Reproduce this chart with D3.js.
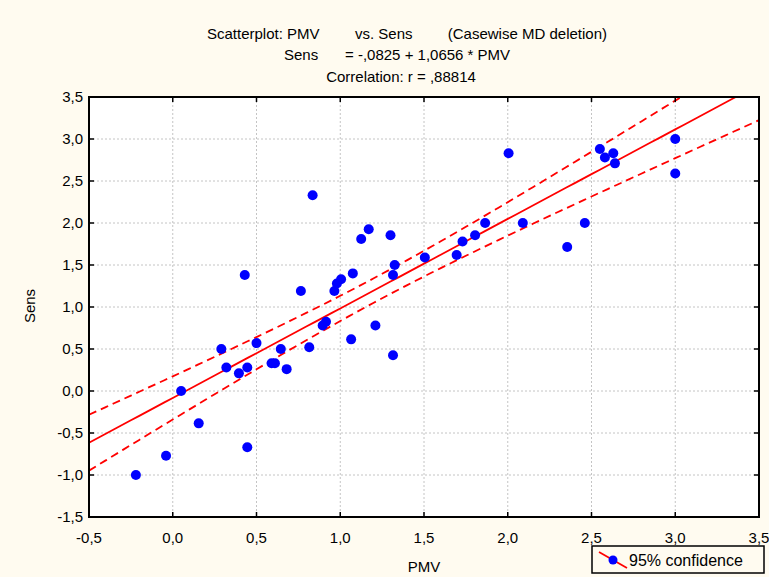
<!DOCTYPE html>
<html><head><meta charset="utf-8">
<script src="https://cdn.jsdelivr.net/npm/d3@7"></script>
<style>
html,body{margin:0;padding:0;background:#fffbf0;}
text{font-family:Arial,"Liberation Sans",sans-serif;fill:#000;}
</style></head>
<body>
<svg id="c" width="769" height="577"></svg>
<script>
const pmv  = [-0.22,-0.04,0.05,0.155,0.29,0.32,0.395,0.43,0.445,0.445,0.50,0.59,0.61,0.645,0.68,0.765,0.815,0.835,0.895,0.915,0.965,0.98,1.005,1.065,1.075,1.125,1.17,1.21,1.30,1.315,1.315,1.325,1.505,1.695,1.73,1.805,1.865,2.005,2.09,2.355,2.46,2.55,2.58,2.63,2.64,3.0,3.0];
const sens = [-1.0,-0.77,0.0,-0.385,0.5,0.28,0.21,1.38,0.28,-0.67,0.57,0.33,0.33,0.5,0.26,1.19,0.52,2.33,0.78,0.825,1.19,1.28,1.33,0.615,1.40,1.81,1.925,0.78,1.855,0.425,1.38,1.50,1.59,1.62,1.78,1.855,2.0,2.83,2.0,1.715,2.0,2.88,2.78,2.83,2.71,3.0,2.59];
const coef = [-0.0825, 1.0656];   // intercept, slope
const xTicks = [-0.5,0.0,0.5,1.0,1.5,2.0,2.5,3.0,3.5];
const yTicks = [-1.5,-1.0,-0.5,0.0,0.5,1.0,1.5,2.0,2.5,3.0,3.5];
const tCrit = 2.014;

const svg = d3.select("#c");
const L=89,R=759,T=97,B=517;
const x = d3.scaleLinear().domain([-0.5,3.5]).range([L,R]);
const y = d3.scaleLinear().domain([-1.5,3.5]).range([B,T]);
const fmt = v => d3.format(".1f")(v).replace(".",",").replace("−","-");

// background
svg.append("rect").attr("width",769).attr("height",577).attr("fill","#fffbf0");
svg.append("rect").attr("x",L).attr("y",T).attr("width",R-L).attr("height",B-T).attr("fill","#fff");

// grid
const g = svg.append("g");
g.selectAll(".gx").data(xTicks.slice(1,-1)).join("line")
  .attr("x1",d=>x(d)).attr("x2",d=>x(d)).attr("y1",T).attr("y2",B)
  .attr("stroke","#c4c4c4").attr("stroke-dasharray","2,2");
g.selectAll(".gy").data(yTicks.slice(1,-1)).join("line")
  .attr("y1",d=>y(d)).attr("y2",d=>y(d)).attr("x1",L).attr("x2",R)
  .attr("stroke","#c4c4c4").attr("stroke-dasharray","2,2");

// titles
const title = svg.append("g").style("font-size","15px");
title.append("text").attr("x",207).attr("y",39).text("Scatterplot: PMV");
title.append("text").attr("x",355).attr("y",39).text("vs. Sens");
title.append("text").attr("x",607).attr("y",39).attr("text-anchor","end").text("(Casewise MD deletion)");
title.append("text").attr("x",284).attr("y",60).text("Sens");
title.append("text").attr("x",345).attr("y",60).text("= -,0825 + 1,0656 * PMV");
title.append("text").attr("x",401).attr("y",82).attr("text-anchor","middle").text("Correlation: r = ,88814");

// clip
svg.append("clipPath").attr("id","clip").append("rect").attr("x",L).attr("y",T).attr("width",R-L).attr("height",B-T);
const plot = svg.append("g").attr("clip-path","url(#clip)");

// regression + confidence
const n = pmv.length;
const xm = d3.mean(pmv);
const sxx = d3.sum(pmv, v => (v-xm)*(v-xm));
const sse = d3.sum(pmv, (v,i) => { const r = sens[i]-(coef[0]+coef[1]*v); return r*r; });
const s = Math.sqrt(sse/(n-2));
const xs = d3.range(-0.5, 3.5001, 0.05);
const fit = v => coef[0]+coef[1]*v;
const hw = v => tCrit*s*Math.sqrt(1/n + (v-xm)*(v-xm)/sxx);
const line = d3.line().x(d=>x(d[0])).y(d=>y(d[1]));
plot.append("path").attr("d",line(xs.map(v=>[v,fit(v)]))).attr("fill","none").attr("stroke","#ff0000").attr("stroke-width",1.8);
[1,-1].forEach(sg=>{
  plot.append("path").attr("d",line(xs.map(v=>[v,fit(v)+sg*hw(v)]))).attr("fill","none")
    .attr("stroke","#ff0000").attr("stroke-width",1.8).attr("stroke-dasharray","8,5");
});

// points
plot.selectAll("circle").data(pmv).join("circle")
  .attr("cx",d=>x(d)).attr("cy",(d,i)=>y(sens[i])).attr("r",5).attr("fill","#0000ff");

// frame
svg.append("rect").attr("x",L).attr("y",T).attr("width",R-L).attr("height",B-T)
  .attr("fill","none").attr("stroke","#000").attr("stroke-width",2);

// ticks (inside)
const tk = svg.append("g").attr("stroke","#000").attr("stroke-width",1.5);
xTicks.forEach(d=>{
  tk.append("line").attr("x1",x(d)).attr("x2",x(d)).attr("y1",B).attr("y2",B-5);
  tk.append("line").attr("x1",x(d)).attr("x2",x(d)).attr("y1",T).attr("y2",T+5);
});
yTicks.forEach(d=>{
  tk.append("line").attr("y1",y(d)).attr("y2",y(d)).attr("x1",L).attr("x2",L+5);
  tk.append("line").attr("y1",y(d)).attr("y2",y(d)).attr("x1",R).attr("x2",R-5);
});

// tick labels
const lab = svg.append("g").style("font-size","15px");
lab.selectAll(".xl").data(xTicks).join("text").attr("x",d=>x(d)).attr("y",543)
  .attr("text-anchor","middle").text(fmt);
lab.selectAll(".yl").data(yTicks).join("text").attr("x",83).attr("y",d=>y(d)+5)
  .attr("text-anchor","end").text(fmt);

// axis titles
svg.append("text").attr("x",424).attr("y",572).attr("text-anchor","middle").style("font-size","15px").text("PMV");
svg.append("text").attr("transform","translate(35,306) rotate(-90)").attr("text-anchor","middle").style("font-size","15px").text("Sens");

// legend
const lg = svg.append("g");
lg.append("rect").attr("x",592).attr("y",546).attr("width",172).attr("height",27)
  .attr("fill","#fffbf0").attr("stroke","#000").attr("stroke-width",1.5);
lg.append("line").attr("x1",599).attr("y1",552).attr("x2",627).attr("y2",568).attr("stroke","#ff0000").attr("stroke-width",1.8);
lg.append("circle").attr("cx",613).attr("cy",560).attr("r",4.5).attr("fill","#0000ff");
lg.append("text").attr("x",629).attr("y",566).style("font-size","16px").text("95% confidence");
</script>
</body></html>
